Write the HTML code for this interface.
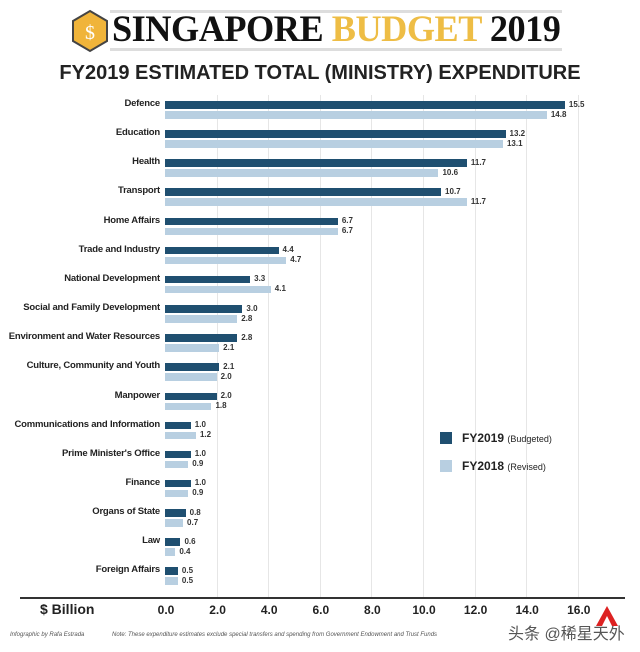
<!DOCTYPE html>
<html><head><meta charset="utf-8"><style>
body{margin:0;background:#fff;width:640px;height:652px;position:relative;overflow:hidden;font-family:"Liberation Sans",sans-serif}
.a{position:absolute}
.lbl{position:absolute;right:480px;font-size:9.5px;font-weight:bold;color:#222;white-space:nowrap;letter-spacing:-0.2px}
.d{position:absolute;left:165px;height:7.5px;background:#1f4f70}
.l{position:absolute;left:165px;height:7.5px;background:#b8cfe1}
.v{position:absolute;font-size:8px;font-weight:bold;color:#333}
.g{position:absolute;top:95px;height:503px;width:1px;background:#e6e6e6}
.t{position:absolute;top:603px;font-size:12px;font-weight:bold;color:#222;width:40px;text-align:center}
</style></head><body>
<div class="a" style="left:110px;top:10px;width:452px;height:3px;background:#ddd"></div>
<div class="a" style="left:110px;top:48px;width:452px;height:3px;background:#ddd"></div>
<svg class="a" style="left:70px;top:9px" width="40" height="44"><polygon points="20,2 37,12 37,32 20,42 3,32 3,12" fill="#f0b43a" stroke="#444" stroke-width="2"/><text x="20" y="30" font-size="20" text-anchor="middle" fill="#fff" font-family="Liberation Serif">$</text></svg>
<div class="a" style="left:112px;top:8px;font-family:'Liberation Serif',serif;font-weight:bold;font-size:37px;letter-spacing:-0.5px;transform:scaleX(0.98);transform-origin:left;white-space:nowrap;color:#111">SINGAPORE <span style="color:#eebd45">BUDGET</span> 2019</div>
<div class="a" style="left:0;width:640px;top:62px;text-align:center;font-size:20px;font-weight:bold;color:#222">FY2019 ESTIMATED TOTAL (MINISTRY) EXPENDITURE</div>
<div id="c"></div>
<div class="a" style="left:20px;top:597px;width:605px;height:2px;background:#333"></div>
<div class="a" style="left:40px;top:601px;font-size:14px;font-weight:bold;color:#222">$ Billion</div>
<div class="a" style="left:10px;top:632px;font-size:6px;font-style:italic;color:#555">Infographic by Rafa Estrada</div>
<div class="a" style="left:112px;top:632px;font-size:6px;font-style:italic;color:#555">Note: These expenditure estimates exclude special transfers and spending from Government Endowment and Trust Funds</div>
<div class="a" style="left:508px;top:620px;font-size:16px;color:#555;font-family:'Liberation Sans','Noto Sans CJK SC',sans-serif">头条 @稀星天外</div>
<svg class="a" style="left:595px;top:605px" width="24" height="22"><polygon points="12,1 23,21 17,21 12,11 7,21 1,21" fill="#d22"/></svg>
<div class="a" style="left:440px;top:432px;width:12px;height:12px;background:#1f4f70"></div>
<div class="a" style="left:462px;top:431px;font-size:12px;color:#222"><b>FY2019</b> <span style="font-size:9px">(Budgeted)</span></div>
<div class="a" style="left:440px;top:460px;width:12px;height:12px;background:#b8cfe1"></div>
<div class="a" style="left:462px;top:459px;font-size:12px;color:#222"><b>FY2018</b> <span style="font-size:9px">(Revised)</span></div>
<script>
var d=[["Defence",15.5,14.8],["Education",13.2,13.1],["Health",11.7,10.6],["Transport",10.7,11.7],["Home Affairs",6.7,6.7],["Trade and Industry",4.4,4.7],["National Development",3.3,4.1],["Social and Family Development",3.0,2.8],["Environment and Water Resources",2.8,2.1],["Culture, Community and Youth",2.1,2.0],["Manpower",2.0,1.8],["Communications and Information",1.0,1.2],["Prime Minister's Office",1.0,0.9],["Finance",1.0,0.9],["Organs of State",0.8,0.7],["Law",0.6,0.4],["Foreign Affairs",0.5,0.5]];
var s=25.8,h="";
for(var k=1;k<=8;k++)h+='<div class="g" style="left:'+(165+k*2*s)+'px"></div>';
for(var k=0;k<=8;k++)h+='<div class="t" style="left:'+(146+k*2*s)+'px">'+(k*2).toFixed(1)+'</div>';
d.forEach(function(r,i){var y=101+i*29.15;
h+='<div class="lbl" style="top:'+(y-3)+'px">'+r[0]+'</div>';
h+='<div class="d" style="top:'+y+'px;width:'+(r[1]*s)+'px"></div>';
h+='<div class="l" style="top:'+(y+10)+'px;width:'+(r[2]*s)+'px"></div>';
h+='<div class="v" style="top:'+(y-1.5)+'px;left:'+(169+r[1]*s)+'px">'+r[1].toFixed(1)+'</div>';
h+='<div class="v" style="top:'+(y+8.5)+'px;left:'+(169+r[2]*s)+'px">'+r[2].toFixed(1)+'</div>';});
document.getElementById('c').innerHTML=h;
</script>
</body></html>
